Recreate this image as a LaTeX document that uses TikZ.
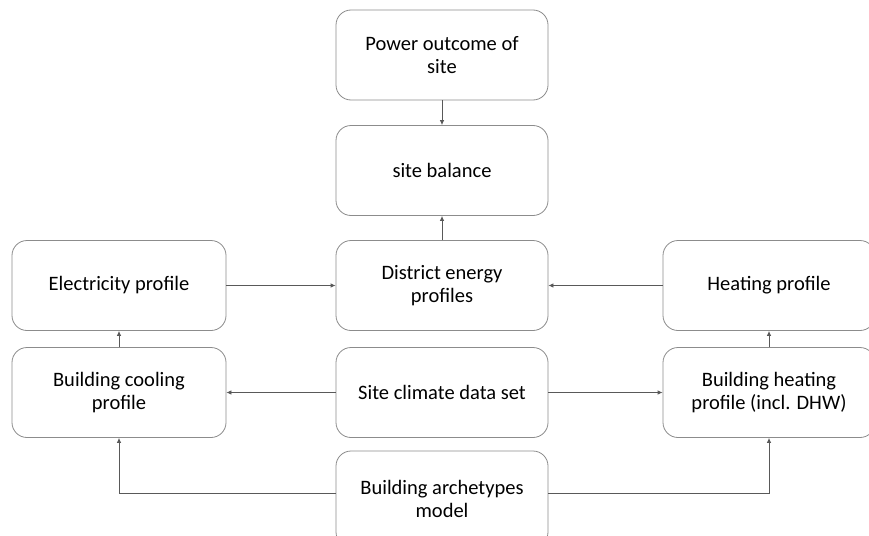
\documentclass[tikz,border=0pt]{standalone}
\usepackage{fontspec}
\setmainfont{Carlito}
\usetikzlibrary{arrows.meta}
\begin{document}
\begin{tikzpicture}[x=1pt,y=1pt,
  box/.style={draw=black!45, line width=0.8pt, rounded corners=15pt, fill=white,
    minimum width=212pt, minimum height=90pt, align=center, font=\fontsize{20.5}{23.5}\selectfont, text=black},
  conn/.style={draw=black!65, line width=0.8pt, -{Latex[length=5pt,width=4.5pt]}}]
\useasboundingbox (0,0) rectangle (869,-535);
\fill[white] (0,0) rectangle (869,-535);
\node[box] (power) at (442,-55) {Power outcome of\\site};
\node[box] (bal) at (442,-170.5) {site balance};
\node[box] (dist) at (442,-285.5) {District energy\\profiles};
\node[box] (clim) at (442,-392.5) {Site climate data set};
\node[box, minimum height=96pt] (arch) at (442,-499) {Building archetypes\\model};
\node[box, minimum width=214pt] (elec) at (119,-285.5) {Electricity profile};
\node[box, minimum width=214pt] (cool) at (119,-392.5) {Building cooling\\profile};
\node[box] (heat) at (769,-285.5) {Heating profile};
\node[box] (bheat) at (769,-392.5) {Building heating\\profile (incl. DHW)};
\draw[conn] (power) -- (bal);
\draw[conn] (dist) -- (bal);
\draw[conn] (elec) -- (dist);
\draw[conn] (heat) -- (dist);
\draw[conn] (clim) -- (cool);
\draw[conn] (clim) -- (bheat);
\draw[conn] (cool) -- (elec);
\draw[conn] (bheat) -- (heat);
\draw[conn] (arch.west |- 0,-493) -| (cool.south);
\draw[conn] (arch.east |- 0,-493) -| (bheat.south);
\end{tikzpicture}
\end{document}
